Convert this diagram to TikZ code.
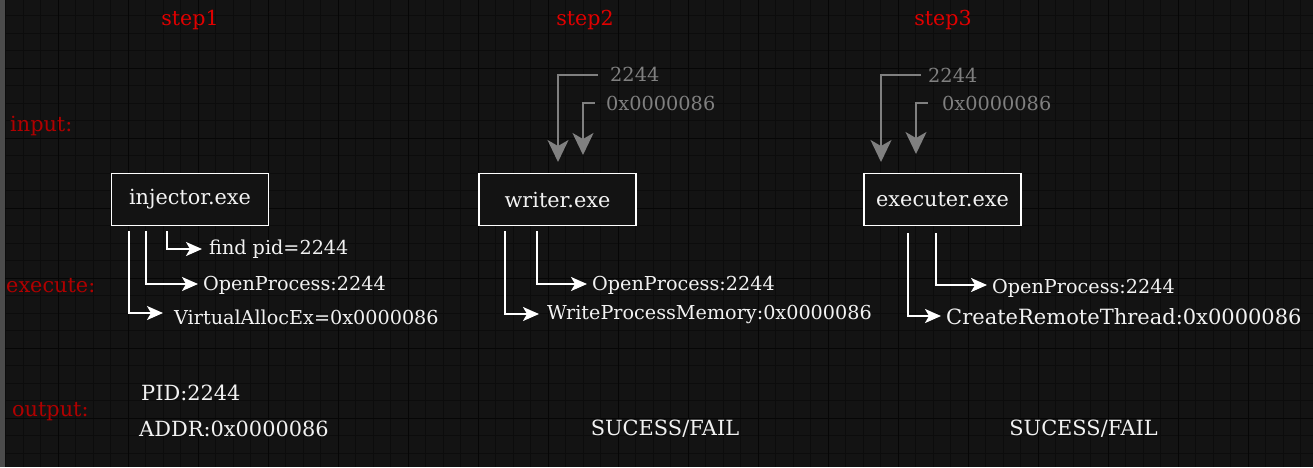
\documentclass[tikz,border=0pt]{standalone}
\usepackage{fontspec}
\setmainfont{DejaVu Serif}
\usetikzlibrary{arrows.meta}
\definecolor{bg}{HTML}{131313}
\definecolor{gminor}{HTML}{0C0C0C}
\definecolor{gmajor}{HTML}{060606}
\definecolor{stepred}{HTML}{E00000}
\definecolor{rowred}{HTML}{B00000}
\definecolor{ingray}{HTML}{808080}
\definecolor{txtwhite}{HTML}{F2F2F2}
\tikzset{
  minorline/.style={gminor, line width=1pt},
  majorline/.style={gmajor, line width=1pt},
  steplabel/.style={text=stepred, font=\fontsize{20.6}{24}\selectfont, inner sep=0pt},
  rowlabel/.style={text=rowred, font=\fontsize{20.8}{24}\selectfont, inner sep=0pt, anchor=west},
  exebox/.style={draw=white, line width=1.6pt, fill=bg, minimum width=157pt, minimum height=52pt, inner sep=0pt, text=txtwhite, font=\fontsize{20.8}{24}\selectfont},
  calltext/.style={text=txtwhite, font=\fontsize{19.2}{22}\selectfont, inner sep=0pt, anchor=west},
  outtext/.style={text=txtwhite, font=\fontsize{20.9}{24}\selectfont, inner sep=0pt},
  intext/.style={text=ingray, font=\fontsize{19.3}{22}\selectfont, inner sep=0pt, anchor=west},
  callarrow/.style={draw=white, line width=1.8pt, -{Stealth[length=16pt,width=14pt,inset=4pt]}},
  inarrow/.style={draw=ingray, line width=2pt, -{Stealth[length=22pt,width=21pt,inset=6pt]}},
}
\begin{document}
\begin{tikzpicture}[x=1pt,y=-1pt]
\useasboundingbox (0,0) rectangle (1313,467);
\fill[bg] (0,0) rectangle (1313,467);
% grid
\foreach \i in {0,...,74} \draw[minorline] ({5.5+17.5*\i},0) -- ++(0,467);
\foreach \i in {0,...,27} \draw[minorline] (0,{15.5+17.5*\i}) -- ++(1313,0);
\foreach \i in {0,...,18} \draw[majorline] ({58+70*\i},0) -- ++(0,467);
\foreach \i in {0,...,6} \draw[majorline] (0,{68+70*\i}) -- ++(1313,0);
\draw[color=black!70!white, line width=1.5pt] (4,0) -- (4,467);
\fill[color=black!70] (0,0) rectangle (3.2,467);

% step labels
\node[steplabel] (s1) at (190,20) {step1};
\node[steplabel] (s2) at (585,20) {step2};
\node[steplabel] (s3) at (943,20) {step3};

% row labels
\node[rowlabel] (rin) at (10,126.5) {input:};
\node[rowlabel] (rex) at (6,285.5) {execute:};
\node[rowlabel] (rout) at (12,411.5) {output:};

% boxes
\node[exebox] (inj) at (190,199.5) {injector.exe};
\node[exebox] (wri) at (557.5,199.5) {writer.exe};
\node[exebox] (exe) at (942.5,199.5) {executer.exe};

% step1 calls
\node[calltext] (c11) at (209,249) {find pid=2244};
\node[calltext] (c12) at (203,285) {OpenProcess:2244};
\node[calltext] (c13) at (174,317) {VirtualAllocEx=0x0000086};
\coordinate (a11) at (167,231);
\coordinate (a12) at (146,231);
\coordinate (a13) at (129,231);
\draw[callarrow] (a11) |- ([xshift=-7pt]c11.west);
\draw[callarrow] (a12) |- ([xshift=-5pt,yshift=1pt]c12.west);
\draw[callarrow] (a13) |- ([xshift=-11pt,yshift=4pt]c13.west);

% step1 outputs
\node[outtext, anchor=west] (o11) at (141,393) {PID:2244};
\node[outtext, anchor=west] (o12) at (139,429) {ADDR:0x0000086};

% step2 inputs
\node[intext] (i21) at (610,74) {2244};
\node[intext] (i22) at (606,103) {0x0000086};
\coordinate (b21) at (598,75);
\coordinate (b22) at (595,103);
\coordinate (t21) at (558,162);
\coordinate (t22) at (583,155);
\draw[inarrow] (b21) -| (t21);
\draw[inarrow] (b22) -| (t22);

% step2 calls
\node[calltext] (c21) at (592,285) {OpenProcess:2244};
\node[calltext] (c22) at (547,314) {WriteProcessMemory:0x0000086};
\coordinate (a21) at (537,231);
\coordinate (a22) at (505,231);
\draw[callarrow] (a21) |- ([xshift=-5pt,yshift=1pt]c21.west);
\draw[callarrow] (a22) |- ([xshift=-8pt]c22.west);
\node[outtext] (o2) at (665,429) {SUCESS/FAIL};

% step3 inputs
\node[intext] (i31) at (928,75) {2244};
\node[intext] (i32) at (942,103) {0x0000086};
\coordinate (b31) at (921,75);
\coordinate (b32) at (928,103);
\coordinate (t31) at (881,162);
\coordinate (t32) at (916,154);
\draw[inarrow] (b31) -| (t31);
\draw[inarrow] (b32) -| (t32);

% step3 calls
\node[calltext] (c31) at (992,288) {OpenProcess:2244};
\node[calltext, font=\fontsize{21}{24}\selectfont] (c32) at (946,317) {CreateRemoteThread:0x0000086};
\coordinate (a31) at (936,233);
\coordinate (a32) at (908,233);
\draw[callarrow] (a31) |- ([xshift=-5pt,yshift=3pt]c31.west);
\draw[callarrow] (a32) |- ([xshift=-5pt,yshift=1pt]c32.west);
\node[outtext] (o3) at (1083.5,429) {SUCESS/FAIL};
\end{tikzpicture}
\end{document}
